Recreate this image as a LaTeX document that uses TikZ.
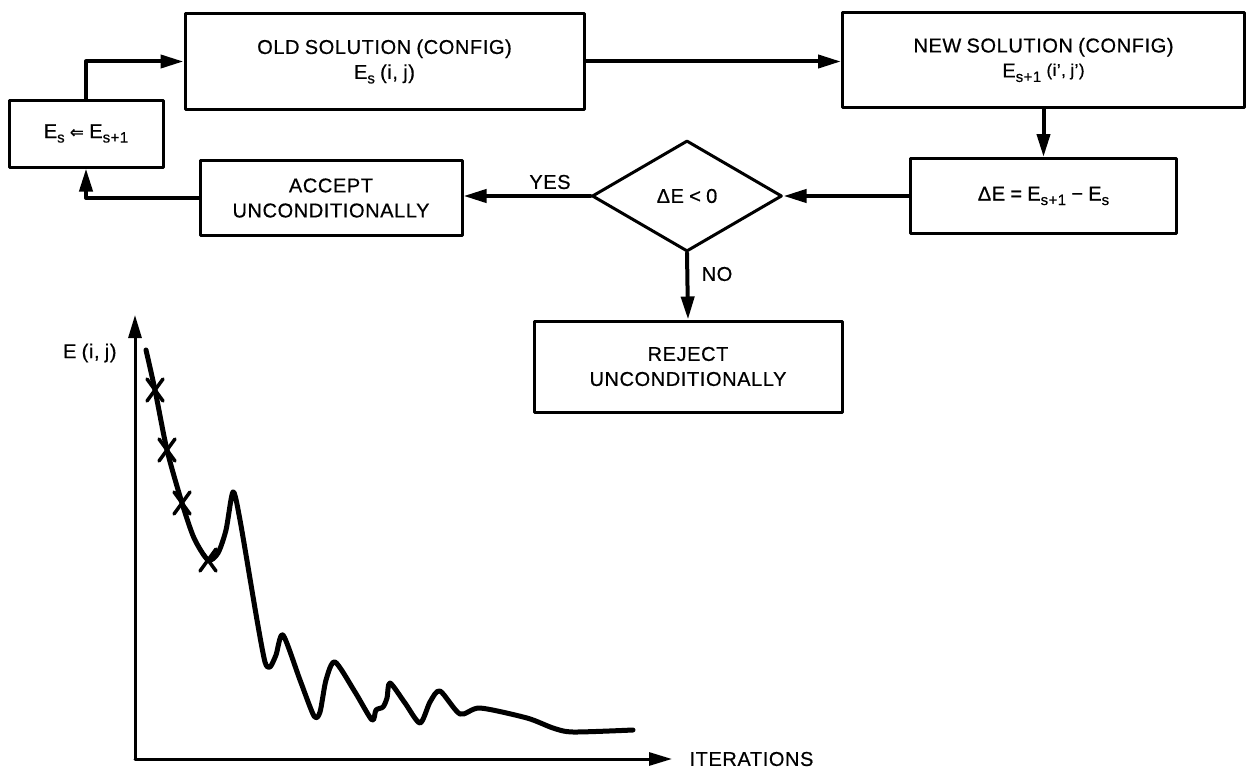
\documentclass[tikz,border=0pt]{standalone}
\usepackage{fontspec}
\setmainfont{Liberation Sans}[LetterSpace=3, WordSpace=0.85, FakeBold=0.6]
\newfontfamily\arrowfont{DejaVu Sans}
\usetikzlibrary{shapes.geometric,arrows.meta}
\newcommand\lowidx[1]{\raisebox{-4.5pt}{\fontsize{15}{15}\selectfont #1}}

\begin{document}
\begin{tikzpicture}[x=1pt, y=-1pt, line width=3.0pt, line cap=round, line join=round,
  box/.style={draw, line width=3.0pt, inner sep=0pt, align=center, font=\fontsize{20}{25}\selectfont},
  ask/.style={draw, diamond, aspect=1.7, line width=3.0pt, inner sep=0pt, font=\fontsize{20}{25}\selectfont},
  link/.style={line width=4.0pt, -{Triangle[length=23pt,width=13pt]}},
  tag/.style={inner sep=0pt, font=\fontsize{20}{25}\selectfont}]

  %% ════ 流程框 ════
  \node[box, minimum width=154pt, minimum height=67pt] (upd) at (86,133.5)
    {E\lowidx{s} {\arrowfont\bfseries\fontsize{17}{17}\selectfont ⇐} E\lowidx{s+1}};
  \node[box, minimum width=399pt, minimum height=95pt] (old) at (384.5,61.5)
    {OLD SOLUTION (CONFIG)\\E\lowidx{s} (i, j)};
  \node[box, minimum width=402pt, minimum height=94pt] (new) at (1043.5,60)
    {NEW SOLUTION (CONFIG)\\E\lowidx{s+1} \raisebox{1.5pt}{\fontsize{17}{17}\selectfont (i', j')}};
  \node[box, minimum width=266pt, minimum height=75pt] (de) at (1043.5,196)
    {ΔE = E\lowidx{s+1} − E\lowidx{s}};
  \node[ask, minimum width=190pt, minimum height=111pt] (chk) at (687,196) {ΔE < 0};
  \node[box, minimum width=262pt, minimum height=75pt] (acc) at (331,198)
    {ACCEPT\\UNCONDITIONALLY};
  \node[box, minimum width=308pt, minimum height=91pt] (rej) at (688,366.5)
    {REJECT\\UNCONDITIONALLY};

  %% ════ 连线 ════
  \draw[link] (old.east) -- (old.east -| new.west);
  \draw[link] (new.south) -- (de.north);
  \draw[link] (de.west) -- (chk.east);
  \draw[link] (chk.west) -- (chk.west -| acc.east);
  \draw[link] (chk.south) -- (rej.north);
  \draw[link] (acc.west) -| (upd.south);
  \draw[link] (upd.north) |- (old.west);
  \node[tag] (yes) at (550,182) {YES};
  \node[tag] (no) at (717,274) {NO};

  %% ════ 曲线图 ════
  \coordinate (ori) at (135,759);
  \coordinate (ytip) at (135,315);
  \coordinate (xtip) at (672,759);
  \draw[link, line width=3.0pt] (ori) -- (ytip);
  \draw[link, line width=3.0pt] (ori) -- (xtip);
  \node[tag, anchor=east] (elab) at (118,353) {E (i, j)};
  \node[tag, anchor=west] (iter) at (688,759) {ITERATIONS};

  \draw[line width=5.0pt] plot[smooth, tension=0.45] coordinates {
    (146,350) (155,390) (167,450) (182,503) (194,538) (208,560) (218,553) (226,530)
    (233,492) (240,520) (257,620) (265,662) (270,667) (276,655) (283,635) (300,680)
    (314,716) (320,712) (326,680) (335,662) (355,692) (372,720) (376,710) (383,707)
    (387,698) (390,683) (405,703) (420,723) (430,702) (440,691) (460,714) (480,708)
    (527,718) (553,728) (573,732) (633,730)};

  %% 叉号
  \foreach \cx/\cy in {155/390, 167/450, 182/503, 208/560}
    \draw[line width=3.5pt] (\cx-8,\cy-11) -- (\cx+8,\cy+11) (\cx-8,\cy+11) -- (\cx+8,\cy-11);

  % 钉死画布
  \pgfresetboundingbox
  \path[use as bounding box] (0,0) rectangle (1250,768);
\end{tikzpicture}
\end{document}
